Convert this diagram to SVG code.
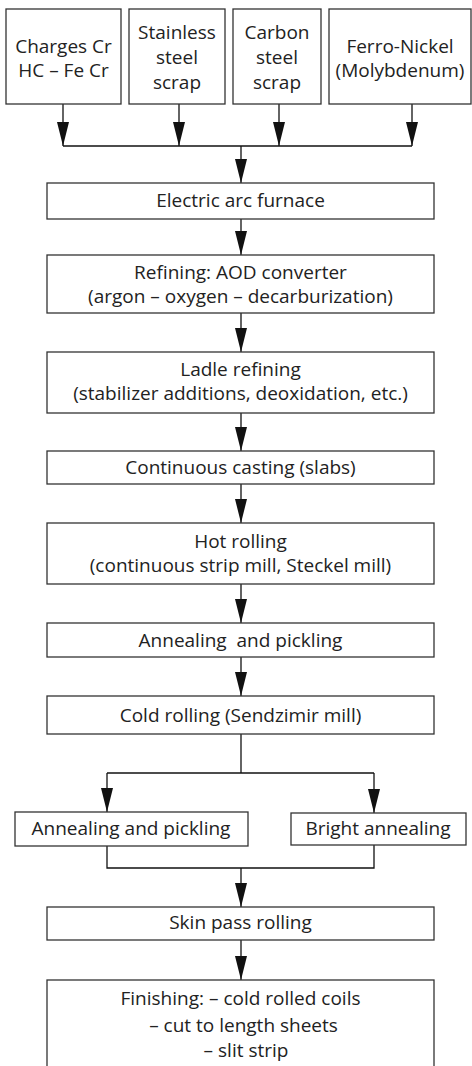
<svg xmlns="http://www.w3.org/2000/svg" width="472" height="1066" viewBox="0 0 472 1066">
<style>
.box{fill:#fff;stroke:#333;stroke-width:1.3}
.t{font-family:"Open Sans","Noto Sans","Liberation Sans",sans-serif;font-size:19px;fill:#222;text-anchor:middle;white-space:pre}
.c{stroke:#111;stroke-width:1.3;fill:none}
</style>
<defs>
<marker id="ah" markerUnits="userSpaceOnUse" viewBox="0 0 24 12" markerWidth="24" markerHeight="12" refX="24" refY="6" orient="auto">
<path d="M0,0 L24,6 L0,12 z" fill="#111"/>
</marker>
</defs>
<rect width="472" height="1066" fill="#fff"/>
<g id="connectors">
<path class="c" d="M63,104 V146" marker-end="url(#ah)"/>
<path class="c" d="M179,104 V146" marker-end="url(#ah)"/>
<path class="c" d="M279,104 V146" marker-end="url(#ah)"/>
<path class="c" d="M412,104 V146" marker-end="url(#ah)"/>
<path class="c" d="M63,146 H412"/>
<path class="c" d="M241,146 V183" marker-end="url(#ah)"/>
<path class="c" d="M241,219 V255" marker-end="url(#ah)"/>
<path class="c" d="M241,313 V352" marker-end="url(#ah)"/>
<path class="c" d="M241,413 V451" marker-end="url(#ah)"/>
<path class="c" d="M241,484 V523" marker-end="url(#ah)"/>
<path class="c" d="M241,584 V623" marker-end="url(#ah)"/>
<path class="c" d="M241,657 V696" marker-end="url(#ah)"/>
<path class="c" d="M241,734 V773"/>
<path class="c" d="M107,773 H374"/>
<path class="c" d="M107,773 V812" marker-end="url(#ah)"/>
<path class="c" d="M374,773 V813" marker-end="url(#ah)"/>
<path class="c" d="M107,846 V868 H374 V845"/>
<path class="c" d="M241,868 V907" marker-end="url(#ah)"/>
<path class="c" d="M241,940 V980" marker-end="url(#ah)"/>
</g>
<g id="n-charges"><rect class="box" x="6" y="9" width="115" height="95"/><text class="t" x="63.5" y="53">Charges Cr</text><text class="t" x="63.5" y="77">HC – Fe Cr</text></g>
<g id="n-stainless"><rect class="box" x="129" y="9" width="96" height="95"/><text class="t" x="177" y="39">Stainless</text><text class="t" x="177" y="64">steel</text><text class="t" x="177" y="89">scrap</text></g>
<g id="n-carbon"><rect class="box" x="233" y="9" width="88" height="95"/><text class="t" x="277" y="39">Carbon</text><text class="t" x="277" y="64">steel</text><text class="t" x="277" y="89">scrap</text></g>
<g id="n-ferro"><rect class="box" x="329" y="9" width="142" height="95"/><text class="t" x="400" y="53">Ferro-Nickel</text><text class="t" x="400" y="77">(Molybdenum)</text></g>
<g id="n-eaf"><rect class="box" x="47" y="183" width="387" height="36"/><text class="t" x="240.5" y="207">Electric arc furnace</text></g>
<g id="n-aod"><rect class="box" x="47" y="255" width="387" height="58"/><text class="t" x="240.5" y="279">Refining: AOD converter</text><text class="t" x="240.5" y="303">(argon – oxygen – decarburization)</text></g>
<g id="n-ladle"><rect class="box" x="47" y="352" width="387" height="61"/><text class="t" x="240.5" y="376">Ladle refining</text><text class="t" x="240.5" y="400">(stabilizer additions, deoxidation, etc.)</text></g>
<g id="n-cast"><rect class="box" x="47" y="451" width="387" height="33"/><text class="t" x="240.5" y="474">Continuous casting (slabs)</text></g>
<g id="n-hot"><rect class="box" x="47" y="523" width="387" height="61"/><text class="t" x="240.5" y="548">Hot rolling</text><text class="t" x="240.5" y="572">(continuous strip mill, Steckel mill)</text></g>
<g id="n-anneal1"><rect class="box" x="47" y="623" width="387" height="34"/><text class="t" x="240.5" y="647">Annealing  and pickling</text></g>
<g id="n-cold"><rect class="box" x="47" y="696" width="387" height="38"/><text class="t" x="240.5" y="722">Cold rolling (Sendzimir mill)</text></g>
<g id="n-anneal2"><rect class="box" x="15" y="812" width="233" height="34"/><text class="t" x="131" y="835">Annealing and pickling</text></g>
<g id="n-bright"><rect class="box" x="291" y="813" width="175" height="32"/><text class="t" x="378" y="835">Bright annealing</text></g>
<g id="n-skin"><rect class="box" x="47" y="907" width="387" height="33"/><text class="t" x="240.5" y="929">Skin pass rolling</text></g>
<g id="n-finish"><rect class="box" x="47" y="980" width="387" height="95"/><text class="t" x="240.5" y="1005">Finishing: – cold rolled coils</text><text class="t" x="243.5" y="1032">– cut to length sheets</text><text class="t" x="246" y="1057">– slit strip</text></g>
</svg>
